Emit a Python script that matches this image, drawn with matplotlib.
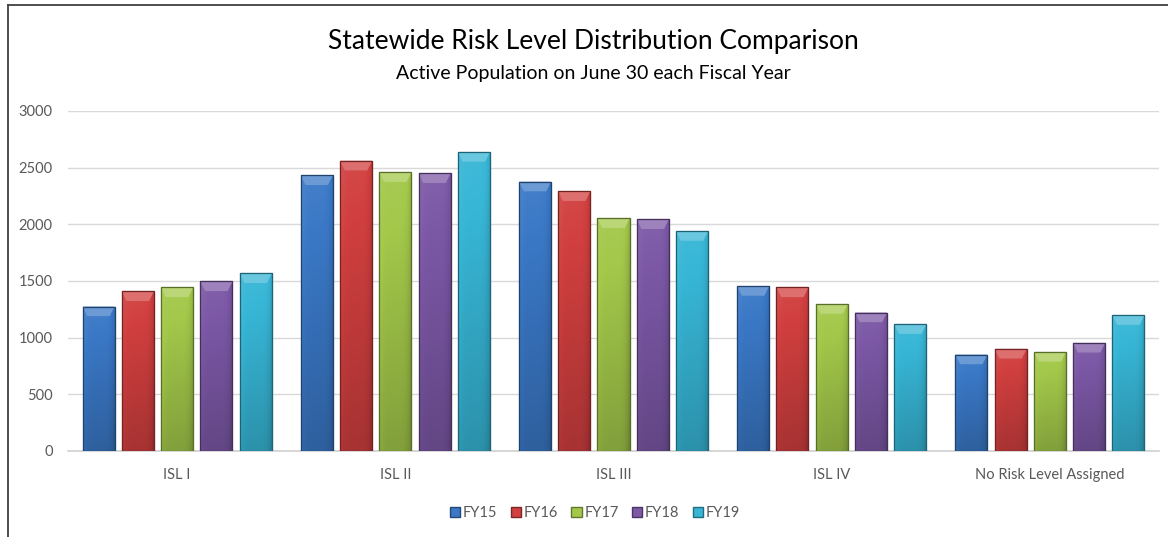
import numpy as np
import matplotlib
matplotlib.use("Agg")
import matplotlib.pyplot as plt
from matplotlib.patches import Polygon, Patch
from matplotlib.lines import Line2D
from matplotlib.colors import to_rgb

categories = ["ISL I", "ISL II", "ISL III", "ISL IV", "No Risk Level Assigned"]
series_names = ["FY15", "FY16", "FY17", "FY18", "FY19"]
fy15 = [1275, 2432, 2376, 1455, 851]
fy16 = [1408, 2561, 2291, 1443, 901]
fy17 = [1443, 2459, 2052, 1296, 874]
fy18 = [1496, 2450, 2044, 1222, 954]
fy19 = [1567, 2638, 1940, 1119, 1198]
yticks = [0, 500, 1000, 1500, 2000, 2500, 3000]

series = [fy15, fy16, fy17, fy18, fy19]
colors = ["#3A78C6", "#D13F3F", "#A3C84A", "#7C58A6", "#37B6D6"]

plt.rcParams['font.family'] = ['Lato', 'DejaVu Sans']

fig = plt.figure(figsize=(11.68, 5.37), dpi=100)
ax = fig.add_axes([68/1168, 1-451/537, 1091/1168, 340/537])

x = np.arange(len(categories))
step = 0.18
width = 0.147


def shade(c, f):
    r = np.array(to_rgb(c))
    if f >= 0:
        return tuple(r + (1 - r) * f)
    return tuple(r * (1 + f))


bev_y = 85     # top bevel depth in data units
bev_x = 0.022  # side bevel in x units

for i, (vals, col) in enumerate(zip(series, colors)):
    offs = (i - 2) * step
    bars = ax.bar(x + offs, vals, width, color=col, edgecolor=shade(col, -0.35),
                  linewidth=0.8, zorder=3, label=series_names[i])
    for b in bars:
        x0, w, h = b.get_x(), b.get_width(), b.get_height()
        ny, nx = 64, 48
        base = np.array(to_rgb(col))
        vy = np.linspace(0.05, -0.20, ny)[:, None]
        hx = np.linspace(-1, 1, nx)[None, :]
        hfac = np.where(hx < 0, 0.06 * np.abs(hx) ** 4, -0.16 * np.abs(hx) ** 4)
        fac = vy + hfac
        img = np.zeros((ny, nx, 3))
        for k in range(3):
            lighter = base[k] + (1 - base[k]) * np.clip(fac, 0, None)
            darker = base[k] * (1 + np.clip(fac, None, 0))
            img[:, :, k] = np.where(fac >= 0, lighter, darker)
        im = ax.imshow(img, extent=(x0, x0 + w, 0, h), aspect='auto',
                       origin='upper', zorder=3.5, interpolation='bilinear')
        im.set_clip_path(b)
        # top bevel
        top = Polygon([(x0, h), (x0 + w, h), (x0 + w - bev_x, h - bev_y),
                       (x0 + bev_x, h - bev_y)], closed=True,
                      facecolor=shade(col, 0.25), edgecolor='none', zorder=4)
        ax.add_patch(top)
        ax.add_patch(Polygon([(x0, 0), (x0, h), (x0 + w, h), (x0 + w, 0)],
                             closed=True, fill=False,
                             edgecolor=shade(col, -0.45), linewidth=0.9, zorder=4.5))

ax.set_xlim(-0.5, len(categories) - 0.5)
ax.set_ylim(0, 3000)
ax.set_yticks(yticks)
ax.set_yticklabels([str(t) for t in yticks])
ax.set_xticks(x)
ax.set_xticklabels(categories)
ax.tick_params(axis='both', length=0, labelsize=10.5, colors='#595959')
ax.tick_params(axis='y', pad=11)
ax.tick_params(axis='x', pad=12)
ax.grid(axis='y', color='#D9D9D9', linewidth=1, zorder=0)
ax.set_axisbelow(True)
for s in ['top', 'right', 'left']:
    ax.spines[s].set_visible(False)
ax.spines['bottom'].set_color('#D0D0D0')
ax.spines['bottom'].set_linewidth(1.2)

fig.text(593/1168, 1-41/537, "Statewide Risk Level Distribution Comparison",
         ha='center', va='center', fontsize=19, color='#000000')
fig.text(593/1168, 1-74/537, "Active Population on June 30 each Fiscal Year",
         ha='center', va='center', fontsize=14, color='#000000')

handles = [Patch(facecolor=c, edgecolor=shade(c, -0.4), label=n)
           for c, n in zip(colors, series_names)]
leg = fig.legend(handles=handles, loc='center', bbox_to_anchor=(595/1168, 1-513/537),
                 ncol=5, frameon=False, fontsize=10.5, handlelength=0.7,
                 handleheight=0.7, handletextpad=0.2, columnspacing=0.9)
for t in leg.get_texts():
    t.set_color('#595959')

# outer frame (top and left edges visible)
fig.add_artist(Line2D([8/1168, 8/1168], [0, 1-5/537], transform=fig.transFigure,
                      color='#404040', linewidth=1.3))
fig.add_artist(Line2D([8/1168, 1], [1-5/537, 1-5/537], transform=fig.transFigure,
                      color='#404040', linewidth=1.3))

fig.savefig("out.png", dpi=100)
